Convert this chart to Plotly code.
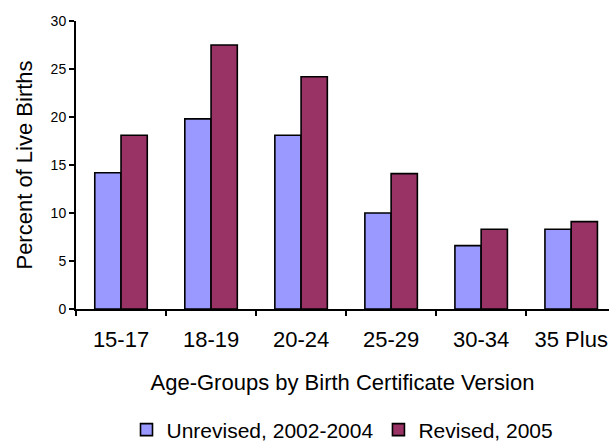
import plotly.graph_objects as go

# Share of live births by maternal age group, old vs. new certificate
age_groups = ["15-17", "18-19", "20-24", "25-29", "30-34", "35 Plus"]
unrevised = [14.2, 19.8, 18.1, 10.0, 6.6, 8.3]
revised = [18.1, 27.5, 24.2, 14.1, 8.3, 9.1]

series_names = ["Unrevised, 2002-2004", "Revised, 2005"]
series_colors = ["#9999FF", "#993366"]

FONT = "Arial, Liberation Sans, sans-serif"

fig = go.Figure()
for name, values, color in zip(series_names, [unrevised, revised], series_colors):
    fig.add_trace(go.Bar(
        x=age_groups,
        y=values,
        name=name,
        marker=dict(color=color, line=dict(color="#000000", width=1.6)),
    ))

fig.update_layout(
    width=609,
    height=441,
    margin=dict(l=76, r=0, t=21, b=132, autoexpand=False),
    paper_bgcolor="white",
    plot_bgcolor="white",
    barmode="group",
    bargap=0.417,
    bargroupgap=0,
    font=dict(family=FONT, color="#000000"),
    showlegend=True,
    legend=dict(
        orientation="h",
        x=0.5,
        xref="paper",
        xanchor="center",
        y=-0.349,
        yanchor="top",
        font=dict(size=21, family=FONT),
        itemwidth=30,
        tracegroupgap=0,
        bgcolor="rgba(0,0,0,0)",
    ),
    xaxis=dict(
        type="category",
        range=[-0.5, 5.42],
        automargin=False,
        showline=True,
        linecolor="#000000",
        linewidth=2,
        ticks="outside",
        tickson="boundaries",
        ticklen=5,
        tickwidth=1.5,
        tickcolor="#000000",
        tickfont=dict(size=22, family=FONT),
        ticklabelstandoff=10,
        showgrid=False,
        zeroline=False,
        title=dict(
            text="Age-Groups by Birth Certificate Version",
            font=dict(size=22, family=FONT),
            standoff=23,
        ),
    ),
    yaxis=dict(
        range=[0, 30],
        tickvals=[0, 5, 10, 15, 20, 25, 30],
        automargin=False,
        showline=True,
        linecolor="#000000",
        linewidth=2,
        ticks="outside",
        ticklen=5,
        tickwidth=1.5,
        tickcolor="#000000",
        tickfont=dict(size=14, family=FONT),
        showgrid=False,
        zeroline=False,
        title=dict(
            text="Percent of Live Births",
            font=dict(size=22, family=FONT),
            standoff=12,
        ),
    ),
)

fig.write_html("out.html")
